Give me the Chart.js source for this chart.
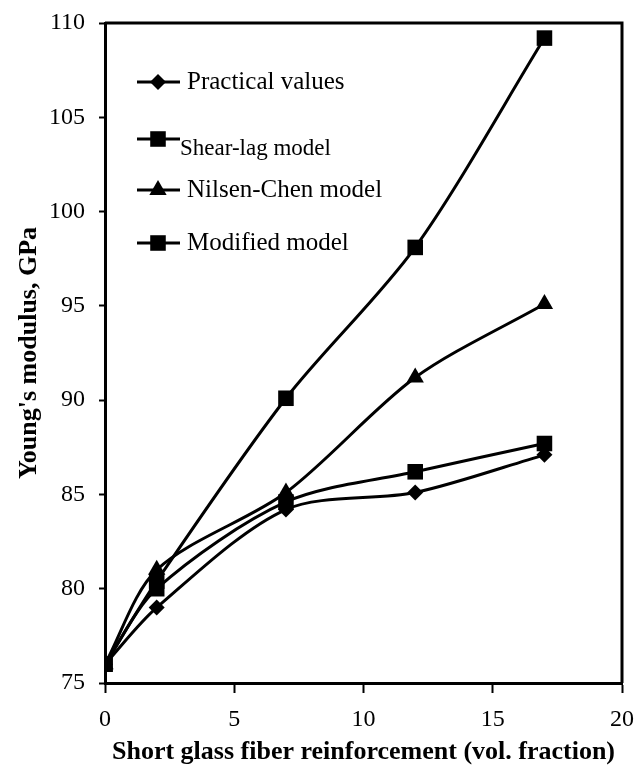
<!DOCTYPE html>
<html>
<head>
<meta charset="utf-8">
<script src="https://cdn.jsdelivr.net/npm/chart.js@4"></script>
<style>
  html, body { margin: 0; padding: 0; background: #fff; }
  #wrap { width: 638px; height: 772px; }
</style>
</head>
<body>
<div id="wrap"><canvas id="modulusChart" width="638" height="772"></canvas></div>
<script>
// fibre content (vol. fraction)
const fiber = [0, 2, 7, 12, 17];

// Young's modulus, GPa
const practical = [76, 79, 84.2, 85.1, 87.1];
const shearLag = [76, 80.4, 90.1, 98.1, 109.2];
const nilsenChen = [76, 81, 85.1, 91.2, 95.1];
const modified = [76, 80, 84.6, 86.2, 87.7];

const xTicks = [0, 5, 10, 15, 20];
const yTicks = [75, 80, 85, 90, 95, 100, 105, 110];

const serif = "'Liberation Serif', 'DejaVu Serif', serif";

function pts(ys) {
  return fiber.map((x, i) => ({ x: x, y: ys[i] }));
}

function series(label, ys, shape, r) {
  return {
    label: label,
    data: pts(ys),
    borderColor: "#000",
    backgroundColor: "#000",
    borderWidth: 3,
    pointStyle: shape,
    pointRadius: r,
    pointBorderWidth: 0,
    tension: 0.3,
    fill: false
  };
}

// the legend sits inside the plot, drawn by hand
const legendItems = [
  { text: "Practical values", shape: "rectRot", r: 8, y: 82, size: 25, dy: 0, tx: 187 },
  { text: "Shear-lag model", shape: "rect", r: 11, y: 139, size: 23, dy: 10, tx: 180 },
  { text: "Nilsen-Chen model", shape: "triangle", r: 10, y: 190, size: 25, dy: 0, tx: 187 },
  { text: "Modified model", shape: "rect", r: 11, y: 243, size: 25, dy: 0, tx: 187 }
];

const boxAndLegend = {
  id: "boxAndLegend",
  afterDraw(chart) {
    const ctx = chart.ctx;
    const a = chart.chartArea;
    ctx.save();
    ctx.strokeStyle = "#000";
    ctx.lineWidth = 3;
    ctx.beginPath();
    ctx.moveTo(a.left, a.top);
    ctx.lineTo(a.right, a.top);
    ctx.lineTo(a.right, a.bottom);
    ctx.stroke();

    legendItems.forEach(it => {
      ctx.strokeStyle = "#000";
      ctx.lineWidth = 3;
      ctx.beginPath();
      ctx.moveTo(137, it.y);
      ctx.lineTo(180, it.y);
      ctx.stroke();
      ctx.fillStyle = "#000";
      Chart.helpers.drawPoint(ctx, { pointStyle: it.shape, radius: it.r, borderWidth: 0 }, 158, it.y);
      ctx.fillStyle = "#000";
      ctx.font = it.size + "px " + serif;
      ctx.textBaseline = "middle";
      ctx.textAlign = "left";
      ctx.fillText(it.text, it.tx, it.y + it.dy);
    });
    ctx.restore();
  }
};

new Chart(document.getElementById("modulusChart"), {
  type: "line",
  data: {
    datasets: [
      series("Practical values", practical, "rectRot", 8),
      series("Shear-lag model", shearLag, "rect", 11),
      series("Nilsen-Chen model", nilsenChen, "triangle", 10),
      series("Modified model", modified, "rect", 11)
    ]
  },
  options: {
    responsive: false,
    animation: false,
    layout: { padding: { top: 23, right: 16, left: 0, bottom: 0 } },
    plugins: {
      legend: { display: false },
      tooltip: { enabled: false }
    },
    scales: {
      x: {
        type: "linear",
        min: 0,
        max: 20,
        afterBuildTicks: s => { s.ticks = xTicks.map(v => ({ value: v })); },
        afterFit: s => { s.height = 89; s.paddingLeft = 0; s.paddingRight = 0; },
        border: { color: "#000", width: 3 },
        grid: { drawOnChartArea: false, tickLength: 10, tickColor: "#000", tickWidth: 2 },
        ticks: { color: "#000", font: { family: serif, size: 24 }, padding: 12 },
        title: {
          display: true,
          text: "Short glass fiber reinforcement (vol. fraction)",
          color: "#000",
          font: { family: serif, size: 26, weight: "bold" },
          padding: { top: 0, bottom: 4 }
        }
      },
      y: {
        min: 75,
        max: 110,
        afterBuildTicks: s => { s.ticks = yTicks.map(v => ({ value: v })); },
        afterFit: s => { s.width = 105; s.paddingTop = 0; s.paddingBottom = 0; },
        border: { color: "#000", width: 3 },
        grid: { drawOnChartArea: false, tickLength: 6, tickColor: "#000", tickWidth: 2 },
        ticks: { color: "#000", font: { family: serif, size: 24 }, padding: 14 },
        title: {
          display: true,
          text: "Young's modulus, GPa",
          color: "#000",
          font: { family: serif, size: 26, weight: "bold" },
          padding: { top: 14, bottom: 0 }
        }
      }
    }
  },
  plugins: [boxAndLegend]
});
</script>
</body>
</html>
